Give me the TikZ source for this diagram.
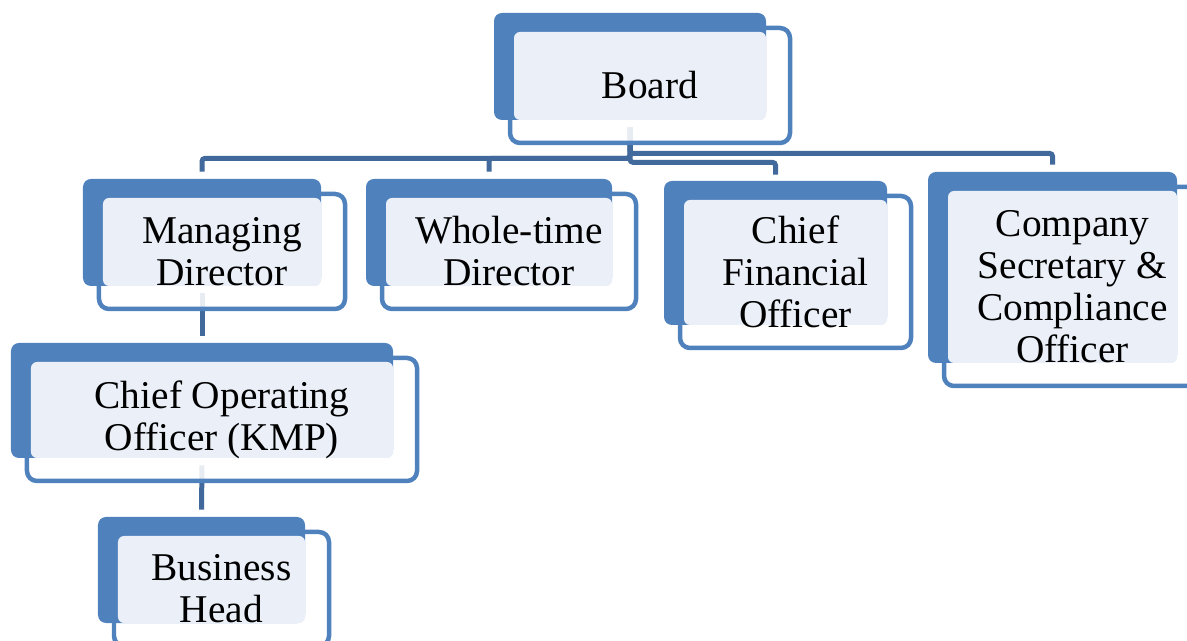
\documentclass[tikz,border=0pt]{standalone}
\usepackage{fontspec}
\setmainfont{Liberation Serif}
\usetikzlibrary{calc}
\pgfdeclarelayer{bg}
\pgfsetlayers{bg,main}
\definecolor{backblue}{HTML}{4F81BD}
\definecolor{connblue}{HTML}{41699B}
\definecolor{lightfill}{HTML}{EBF0F8}
\tikzset{
  backbox/.style={draw=none, fill=backblue, rounded corners=0.16cm, inner sep=0pt},
  frontbox/.style={draw=backblue, line width=0.09cm, fill=white, fill opacity=0.88, rounded corners=0.2cm, inner sep=0pt},
  lightbox/.style={draw=none, fill=lightfill, rounded corners=0.12cm, inner sep=0pt},
  unittext/.style={align=center, inner sep=0pt, text=black, font=\fontsize{22.4}{23.9}\selectfont},
  conn/.style={draw=connblue, line width=0.1cm, rounded corners=0.06cm},
}
\newcommand\orgunit[6]{%
  \pgfmathsetmacro\fxa{#2+16}%
  \pgfmathsetmacro\fxb{#4+24}%
  \pgfmathsetmacro\fya{#3+15}%
  \pgfmathsetmacro\fyb{#5+23}%
  \pgfmathsetmacro\fw{(\fxb-\fxa)*0.02}%
  \pgfmathsetmacro\fh{(\fyb-\fya)*0.02}%
  \pgfmathsetmacro\bw{(#4-#2)*0.02}%
  \pgfmathsetmacro\bh{(#5-#3)*0.02}%
  \pgfmathsetmacro\lxa{\fxa+4}%
  \pgfmathsetmacro\lya{\fya+4}%
  \pgfmathsetmacro\lw{(#4-\lxa)*0.02}%
  \pgfmathsetmacro\lh{(#5-\lya)*0.02}%
  \node[frontbox, minimum width=\fw cm, minimum height=\fh cm] (#1) at ({(\fxa+\fxb)/2},{(\fya+\fyb)/2}) {};
  \node[backbox, minimum width=\bw cm, minimum height=\bh cm] (#1-back) at ({(#2+#4)/2},{(#3+#5)/2}) {};
  \node[lightbox, minimum width=\lw cm, minimum height=\lh cm] (#1-light) at ({(\lxa+#4)/2},{(\lya+#5)/2}) {};
  \node[unittext] (#1-text) at (#1.center) {#6};
}
\begin{document}
\begin{tikzpicture}[x=0.02cm, y=-0.02cm]
  \useasboundingbox (0,0) rectangle (1187,641);
  \clip (0,0) rectangle (1187,641);
  \orgunit{board}{494}{13}{766}{120}{Board}
  \orgunit{md}{83}{179}{321}{286}{Managing\\Director}
  \orgunit{wt}{366}{179}{612}{286}{Whole-time\\Director}
  \orgunit{cfo}{664}{181}{887}{325}{Chief\\Financial\\Officer}
  \orgunit{cs}{928}{172}{1177}{363}{Company\\Secretary \&\\Compliance\\Officer}
  \orgunit{coo}{11}{343}{393}{458}{Chief Operating\\Officer (KMP)}
  \orgunit{bh}{98}{517}{305}{623}{Business\\Head}
  \begin{pgfonlayer}{bg}
    \coordinate (bj) at ([yshift=-0.14cm]board-back.south);
    \draw[conn] (bj) -- ++(0,31) -| ([yshift=0.14cm]md-back.north);
    \draw[conn] (bj) -- ++(0,31) -| ([yshift=0.14cm]wt-back.north);
    \draw[conn] (bj) -- ++(0,35) -| ([yshift=0.12cm]cfo-back.north);
    \draw[conn] (bj) -- ++(0,26) -| ([yshift=0.14cm]cs-back.north);
    \draw[conn] ([yshift=-0.14cm]md-back.south) -- ([yshift=0.14cm]coo-back.north);
    \draw[conn] ([yshift=-0.14cm]coo-back.south) -- ([yshift=0.14cm]bh-back.north);
  \end{pgfonlayer}
\end{tikzpicture}
\end{document}
